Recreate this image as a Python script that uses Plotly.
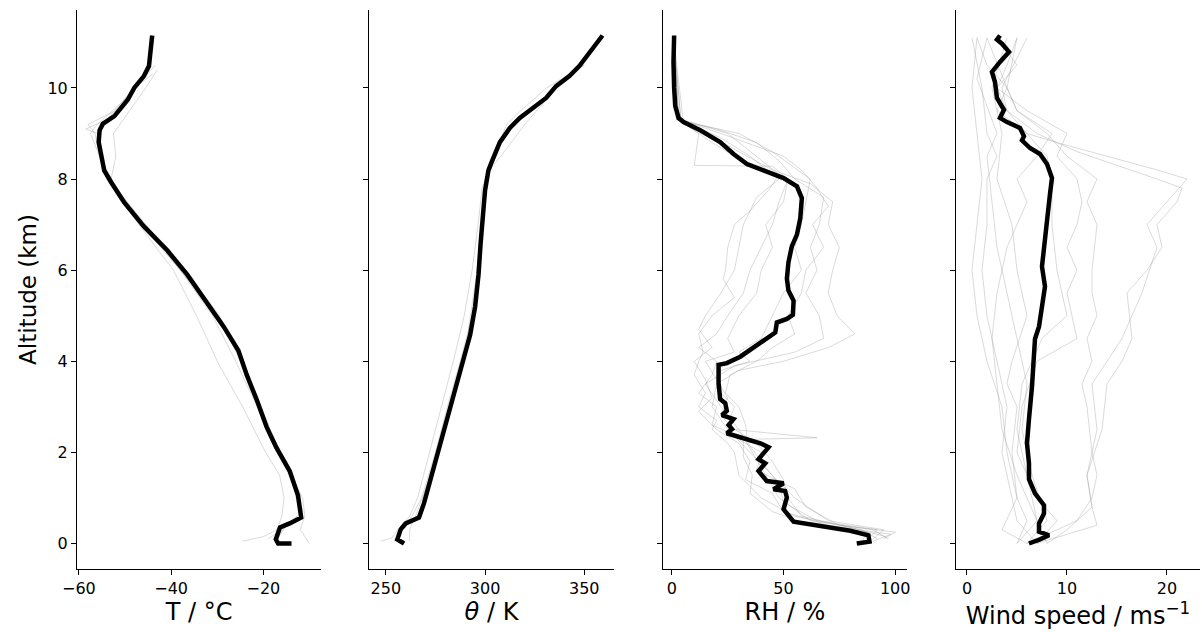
import plotly.graph_objects as go

# ---------------- Temperature ----------------
T_MEAN_ALT = [11.15, 10.48, 10.26, 10.0, 9.74, 9.38, 9.21, 9.07, 8.81, 8.55, 8.19, 7.93, 7.49, 6.96, 6.43,
              5.90, 5.29, 4.76, 4.23, 3.70, 3.17, 2.56, 2.11, 1.59, 1.06, 0.57, 0.44, 0.35, 0.09, 0.0, 0.0]
T_MEAN = [-44.1, -44.8, -45.9, -48.0, -49.4, -52.3, -54.8, -55.5, -55.7, -55.3, -54.5, -53.0, -50.2, -45.9, -40.8,
          -36.5, -32.2, -28.6, -25.4, -23.6, -21.5, -19.3, -17.2, -14.3, -12.5, -11.8, -14.3, -16.4, -17.3, -16.8, -13.9]
T_GREY_ALT = [
    [0.05, 0.15, 0.3, 0.6, 1.0, 1.5, 2.0, 3.0, 4.0, 5.0, 6.0, 7.0, 8.0, 8.5, 9.0, 9.2, 9.5, 10.0, 10.5],
    [0.0, 0.3, 0.6, 1.0, 2.0, 3.0, 4.0, 5.0, 6.0, 7.0, 8.0, 8.5, 9.0, 9.1, 9.3, 10.0, 10.3],
    [0.1, 0.3, 0.6, 1.5, 2.5, 4.0, 5.0, 6.0, 7.0, 8.0, 8.5, 9.0, 9.5, 10.0, 10.4],
    [0.1, 0.4, 0.7, 1.5, 2.5, 3.5, 4.5, 5.5, 6.5, 7.5, 8.5, 9.0, 9.2, 9.7, 10.2, 10.5],
]
T_GREY = [
    [-24.5, -20, -17, -16, -15.5, -16.5, -19.5, -24.5, -30, -34.5, -39.5, -47, -54, -55.5, -56.5, -58, -52, -47.5, -43.5],
    [-10, -12, -11, -11.5, -16.5, -21, -25, -29.5, -37, -45.5, -53.5, -55, -56, -58.5, -54, -48, -44],
    [-19, -16, -12, -14, -19, -26, -31, -38, -46.5, -53, -52, -52.5, -49, -45.5, -43],
    [-17, -15, -11.5, -14, -18.5, -22.5, -27, -34, -42, -50.5, -55.5, -57.5, -56, -50.5, -46, -44.5],
]

# ---------------- Potential temperature ----------------
TH_MEAN_ALT = [11.15, 10.88, 10.48, 10.26, 10.04, 9.78, 9.56, 9.34, 9.12, 8.81, 8.37, 8.19, 7.75, 7.22, 6.61,
               5.90, 5.20, 4.58, 4.05, 3.52, 2.82, 2.20, 1.50, 0.88, 0.57, 0.44, 0.31, 0.09, 0.0]
TH_MEAN = [359.2, 354.2, 347.5, 342.5, 335.8, 330.8, 324.2, 317.5, 312.5, 307.5, 303.3, 301.7, 300.0, 298.8, 297.8,
           296.7, 295.0, 292.5, 289.2, 285.8, 281.7, 277.5, 273.3, 269.2, 266.7, 260.0, 257.5, 255.8, 259.2]
TH_GREY_ALT = [
    [0.05, 0.12, 0.3, 0.6, 1.0, 2.0, 3.0, 4.0, 5.0, 6.0, 7.0, 7.8, 8.2, 8.5, 9.0, 9.2, 9.5, 10.0, 10.5],
    [0.05, 0.3, 0.6, 1.5, 3.0, 4.5, 6.0, 7.0, 8.0, 8.3, 8.5, 8.8, 9.2, 9.6, 10.0, 10.4, 10.5],
    [0.05, 0.2, 0.5, 1.0, 2.0, 3.0, 4.0, 5.0, 6.0, 7.0, 8.0, 8.5, 8.9, 9.1, 9.3, 9.8, 10.3],
]
TH_GREY = [
    [247.5, 253, 256, 262, 266, 272, 278, 284, 289.5, 293.5, 296.5, 298.5, 302, 305.5, 309, 311, 318, 331, 350],
    [262, 262, 265, 272.5, 282, 291, 296, 298, 300.5, 304, 308, 313, 320, 328, 336, 346, 350],
    [254, 256, 262, 268, 275, 281, 287.5, 293.5, 296.5, 298, 300, 304, 308, 311.5, 318, 330, 342],
]

# ---------------- Relative humidity ----------------
RH_MEAN_ALT = [11.15, 10.57, 10.0, 9.6, 9.34, 9.25, 9.07, 8.81, 8.55, 8.33, 8.19, 8.02, 7.84, 7.58, 7.14, 6.78,
               6.52, 6.17, 5.81, 5.55, 5.33, 5.02, 4.93, 4.85, 4.63, 4.45, 4.27, 4.10, 3.96, 3.92, 3.52, 3.17,
               3.08, 2.91, 2.82, 2.73, 2.60, 2.51, 2.42, 2.29, 2.20, 2.11, 1.85, 1.76, 1.59, 1.37, 1.32, 1.19,
               1.15, 1.01, 0.75, 0.48, 0.40, 0.28, 0.18, 0.04, 0.0]
RH_MEAN = [1.0, 0.7, 1.0, 1.5, 3.0, 5.2, 12.7, 21.6, 27.6, 33.6, 41.0, 50.0, 56.0, 58.2, 57.5, 56.0,
           53.7, 52.2, 51.5, 52.2, 54.5, 54.2, 51.5, 47.0, 46.3, 41.0, 35.0, 30.6, 24.6, 20.9, 20.9, 21.6,
           23.9, 24.6, 22.4, 27.6, 25.4, 26.9, 24.6, 33.6, 39.6, 43.3, 38.8, 41.8, 38.8, 42.5, 50.0, 45.5,
           50.7, 51.5, 50.0, 54.5, 65.0, 79.9, 88.0, 88.5, 82.8]
RH_GREY_ALT = [
    [11, 9.3, 9.0, 8.6, 8.2, 7.9, 7.5, 7.0, 6.5, 6.0, 5.5, 5.0, 4.6, 4.3, 4.0, 3.8, 3.5, 3.0, 2.5, 2.0, 1.5, 1.0, 0.5, 0.3, 0.1],
    [11, 9.3, 9.1, 8.8, 8.4, 8.0, 7.6, 7.0, 6.5, 6.0, 5.5, 5.0, 4.5, 4.2, 3.9, 3.5, 3.0, 2.5, 2.0, 1.5, 1.0, 0.5, 0.3, 0.1],
    [11, 9.3, 9.0, 8.5, 8.1, 7.8, 7.3, 7.0, 6.5, 6.0, 5.8, 5.4, 5.0, 4.6, 4.2, 4.0, 3.7, 3.3, 3.0, 2.7, 2.5, 2.2, 2.0, 1.5, 1.0, 0.6, 0.3, 0.1],
    [11, 9.3, 8.9, 8.5, 8.3, 8.0, 7.6, 7.0, 6.5, 6.0, 5.5, 5.0, 4.7, 4.3, 4.0, 3.6, 3.2, 2.9, 2.5, 2.2, 1.8, 1.4, 1.1, 0.7, 0.4, 0.2, 0.05],
    [11, 9.3, 9.0, 8.3, 8.28, 8.0, 7.5, 7.0, 6.5, 6.0, 5.5, 5.0, 4.5, 4.2, 4.0, 3.6, 3.2, 2.8, 2.5, 2.32, 2.28, 2.0, 1.6, 1.2, 0.8, 0.4, 0.25, 0.1],
    [11, 9.3, 9.0, 8.6, 8.0, 7.5, 7.0, 6.5, 6.0, 5.5, 5.0, 4.5, 4.2, 4.0, 3.8, 3.4, 3.0, 2.6, 2.2, 1.8, 1.4, 1.0, 0.6, 0.35, 0.15],
    [11, 9.3, 8.8, 8.5, 8.0, 7.5, 7.0, 6.5, 6.0, 5.5, 5.0, 4.6, 4.3, 4.0, 3.7, 3.3, 3.0, 2.6, 2.3, 1.9, 1.5, 1.1, 0.7, 0.4, 0.25, 0.05],
    [11, 9.3, 9.0, 8.5, 8.2, 7.8, 7.4, 7.0, 6.5, 6.0, 5.5, 5.0, 4.6, 4.3, 4.0, 3.7, 3.3, 3.0, 2.6, 2.2, 1.8, 1.3, 0.9, 0.5, 0.3, 0.1],
]
RH_GREY = [
    [1, 3, 15, 30, 45, 62, 72, 70, 75, 72, 70, 74, 82, 70, 50, 30, 20, 18, 25, 35, 45, 55, 70, 95, 90],
    [1, 2, 20, 38, 48, 55, 68, 66, 62, 65, 60, 66, 68, 55, 28, 15, 22, 30, 36, 42, 48, 62, 90, 97],
    [1, 5, 25, 38, 48, 44, 35, 28, 25, 24, 23, 28, 18, 12, 14, 12, 10, 15, 12, 20, 18, 25, 28, 30, 40, 55, 85, 92],
    [1, 4, 22, 35, 40, 48, 38, 32, 30, 28, 22, 15, 12, 18, 10, 15, 18, 12, 20, 30, 35, 33, 45, 50, 70, 98, 90],
    [1, 3, 12, 10, 45, 52, 50, 42, 45, 40, 38, 30, 25, 28, 15, 20, 25, 22, 28, 65, 30, 40, 38, 55, 60, 75, 100, 95],
    [1, 2, 30, 45, 62, 60, 58, 55, 58, 50, 45, 40, 30, 35, 22, 20, 28, 25, 38, 45, 50, 52, 58, 80, 96],
    [1, 3, 18, 28, 52, 48, 45, 40, 35, 32, 25, 20, 12, 20, 18, 12, 20, 18, 32, 32, 36, 35, 45, 62, 88, 85],
    [1, 4, 22, 50, 58, 65, 70, 63, 68, 60, 58, 52, 55, 45, 38, 26, 24, 30, 33, 34, 40, 48, 50, 65, 92, 88],
]

# ---------------- Wind speed ----------------
WS_MEAN_ALT = [11.15, 11.06, 10.97, 10.79, 10.57, 10.48, 10.35, 10.13, 9.78, 9.52, 9.34, 9.25, 9.12, 8.94, 8.85,
               8.68, 8.55, 8.33, 8.02, 7.67, 7.14, 6.61, 6.08, 5.64, 5.20, 4.76, 4.49, 3.96, 3.44, 2.73, 2.20,
               1.76, 1.41, 1.10, 0.84, 0.66, 0.44, 0.26, 0.18, 0.09, 0.0]
WS_MEAN = [3.3, 3.0, 3.5, 4.2, 3.3, 3.0, 2.5, 2.8, 3.0, 3.7, 3.3, 4.0, 5.3, 5.7, 5.5,
           6.3, 7.3, 8.0, 8.5, 8.3, 8.0, 7.8, 7.5, 7.8, 7.5, 7.2, 6.8, 6.7, 6.5, 6.2, 6.0,
           6.2, 6.2, 6.8, 7.7, 7.7, 7.2, 7.2, 8.2, 7.3, 6.2]
WS_GREY_ALT = [
    [0.0, 0.3, 0.8, 1.5, 2.5, 3.5, 4.5, 5.5, 6.5, 7.0, 7.5, 8.0, 8.2, 8.5, 8.8, 9.0, 9.5, 10.0, 10.5, 11.1],
    [0.0, 0.4, 0.8, 1.5, 2.5, 3.5, 4.0, 4.5, 5.5, 6.0, 6.5, 7.0, 7.5, 7.8, 8.0, 8.3, 8.6, 9.0, 9.5, 10.0, 10.5, 11.1],
    [0.0, 0.5, 1.0, 1.5, 2.0, 3.0, 3.5, 4.0, 4.5, 5.0, 5.5, 6.0, 7.0, 7.5, 8.0, 8.5, 9.0, 9.5, 10.0, 11.1],
    [0.0, 0.5, 1.0, 2.0, 3.0, 4.0, 4.5, 5.0, 5.5, 6.0, 6.5, 7.0, 7.5, 8.0, 8.5, 9.0, 9.5, 10.0, 10.5, 11.1],
    [0.0, 0.5, 1.0, 2.0, 3.0, 4.0, 5.0, 6.0, 7.0, 8.0, 9.0, 10.0, 11.1],
    [0.0, 0.5, 1.0, 2.0, 3.0, 4.0, 5.0, 6.0, 7.0, 8.0, 8.5, 9.0, 10.0, 11.1],
    [0.0, 0.3, 1.0, 2.0, 3.0, 3.5, 4.0, 5.0, 6.0, 7.0, 8.0, 9.0, 10.0, 11.1],
    [0.0, 0.5, 1.5, 2.5, 3.5, 4.5, 5.0, 5.5, 6.0, 7.0, 8.0, 8.5, 9.0, 9.5, 10.0, 11.1],
    [0.0, 0.5, 1.5, 2.5, 3.5, 4.5, 5.5, 6.5, 7.5, 8.0, 8.5, 9.0, 9.5, 10.0, 11.1],
    [0.0, 0.5, 1.5, 2.5, 3.5, 4.5, 5.5, 6.5, 7.5, 8.5, 9.0, 9.6, 10.2, 11.1],
]
WS_GREY = [
    [8, 10, 12.5, 12, 13, 12.5, 15.5, 17.5, 19, 18, 20, 22, 19, 14, 9, 6, 3, 4, 2, 1],
    [7, 13, 12.5, 12, 13.5, 14, 15.5, 16.5, 16, 18, 19.5, 19, 21, 21.5, 19, 15, 11, 7, 4, 3, 5, 3],
    [6, 11, 12.5, 13, 12.5, 12, 11.5, 12.5, 12, 13, 12.5, 12.5, 13, 12, 13, 10, 8, 5, 4, 2],
    [7, 9, 7, 5, 5.5, 7, 11, 10.5, 10, 11, 10, 11, 11.5, 11, 9, 10, 6, 3, 4, 5],
    [5, 6, 5, 4, 3.5, 2, 1, 0.5, 1, 1.5, 1, 0.5, 1],
    [7, 5, 4.5, 3.5, 4, 3, 2, 1.5, 2, 2, 3, 2, 1.5, 0.5],
    [6, 3.5, 5, 4.5, 5, 4, 4.5, 6, 5, 4.5, 3, 3.5, 2.5, 4],
    [5, 7, 6, 5, 5.5, 7.5, 10, 9.5, 9, 8.5, 8.5, 8, 6, 4, 3.5, 6],
    [8, 7, 5, 3.5, 3, 2.5, 3, 4, 6, 5, 7, 8.5, 5, 4, 5],
    [6, 8, 6.5, 5.5, 6, 5, 4, 3, 2.5, 2, 3, 2, 1, 2],
]

X_TITLES = ["T / °C", "<i>θ</i> / K", "RH / %", "Wind speed / ms<sup>−1</sup>"]
X_RANGES = [[-60.4, -7.5], [241.5, 365.0], [-4.0, 105.3], [-1.1, 23.3]]
X_TICKS = [[-60, -40, -20], [250, 300, 350], [0, 50, 100], [0, 10, 20]]
Y_RANGE = [-0.56, 11.71]
Y_TICKS = [0, 2, 4, 6, 8, 10]

GREY = "rgba(140,140,140,0.32)"
panels = [
    (T_GREY_ALT, T_GREY, T_MEAN_ALT, T_MEAN),
    (TH_GREY_ALT, TH_GREY, TH_MEAN_ALT, TH_MEAN),
    (RH_GREY_ALT, RH_GREY, RH_MEAN_ALT, RH_MEAN),
    (WS_GREY_ALT, WS_GREY, WS_MEAN_ALT, WS_MEAN),
]

fig = go.Figure()
for i, (galt, gval, malt, mval) in enumerate(panels):
    xa = "x" if i == 0 else f"x{i+1}"
    ya = "y" if i == 0 else f"y{i+1}"
    for a, v in zip(galt, gval):
        fig.add_trace(go.Scatter(x=v, y=a, mode="lines", xaxis=xa, yaxis=ya,
                                 line=dict(color=GREY, width=1), showlegend=False, hoverinfo="skip"))
    fig.add_trace(go.Scatter(x=mval, y=malt, mode="lines", xaxis=xa, yaxis=ya,
                             line=dict(color="black", width=4.5), showlegend=False))

domains = [[0.0, 0.2173], [0.2600, 0.4782], [0.5218, 0.7391], [0.7827, 1.0]]
font_fam = "DejaVu Sans"
layout = dict(
    width=1202, height=632,
    margin=dict(l=77, r=2, t=10, b=63),
    plot_bgcolor="white", paper_bgcolor="white",
    font=dict(family=font_fam, color="black"),
    showlegend=False,
)
for i in range(4):
    xk = "xaxis" if i == 0 else f"xaxis{i+1}"
    yk = "yaxis" if i == 0 else f"yaxis{i+1}"
    anchor_y = "y" if i == 0 else f"y{i+1}"
    anchor_x = "x" if i == 0 else f"x{i+1}"
    layout[xk] = dict(
        domain=domains[i], anchor=anchor_y, range=X_RANGES[i], automargin=False,
        tickvals=X_TICKS[i], ticks="outside", ticklen=5, tickwidth=1, tickcolor="black",
        showline=True, linecolor="black", linewidth=1.1, mirror=False,
        showgrid=False, zeroline=False,
        tickfont=dict(size=16, family=font_fam),
        title=dict(text=X_TITLES[i], font=dict(size=24, family=font_fam), standoff=2),
    )
    layout[yk] = dict(
        domain=[0, 1], anchor=anchor_x, range=Y_RANGE, automargin=False,
        tickvals=Y_TICKS, ticks="outside", ticklen=5, tickwidth=1, tickcolor="black",
        showline=True, linecolor="black", linewidth=1.1, mirror=False,
        showgrid=False, zeroline=False,
        showticklabels=(i == 0),
        tickfont=dict(size=16, family=font_fam),
    )
    if i == 0:
        layout[yk]["title"] = dict(text="Altitude (km)", font=dict(size=23, family=font_fam), standoff=4)
    else:
        layout[yk]["matches"] = "y"
fig.update_layout(**layout)
fig.write_html("out.html", config={"displayModeBar": False},
               post_script="document.body.style.margin='0';document.body.style.overflow='hidden';")
